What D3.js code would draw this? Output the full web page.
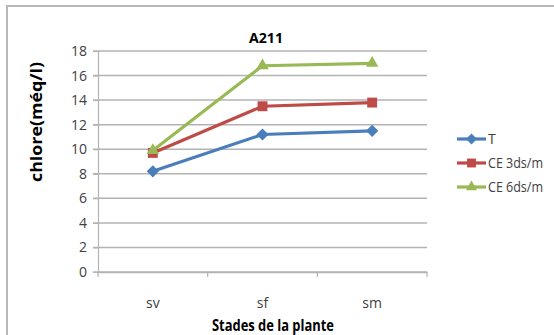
<!DOCTYPE html>
<html>
<head>
<meta charset="utf-8">
<script src="https://cdn.jsdelivr.net/npm/d3@7"></script>
<style>
    body { margin: 0; background: #fff; }
    text { font-family: "Open Sans", sans-serif; fill: #404040; }
</style>
</head>
<body>
<script>
const width = 554;
const height = 335;

// data
const stades = ["sv", "sf", "sm"];
const seriesNames = ["T", "CE 3ds/m", "CE 6ds/m"];
const valuesT = [8.2, 11.2, 11.5];
const valuesCE3 = [9.7, 13.5, 13.8];
const valuesCE6 = [9.9, 16.8, 17.0];
const yTicks = [0, 2, 4, 6, 8, 10, 12, 14, 16, 18];

const color = {
    T: "#4a7ebb",
    CE3: "#be4b48",
    CE6: "#98b954",
    grid: "#b3b3b3",
    text: "#404040"
};

const series = [
    {name: seriesNames[0], values: valuesT, color: color.T, symbol: d3.symbolDiamond2, size: 95},
    {name: seriesNames[1], values: valuesCE3, color: color.CE3, symbol: d3.symbolSquare2, size: 125},
    {name: seriesNames[2], values: valuesCE6, color: color.CE6, symbol: d3.symbolTriangle2, size: 110}
];

const plot = {left: 98, right: 427, top: 51, bottom: 272};

let svg = d3.select("body").append("svg")
    .attr("width", width)
    .attr("height", height)

// chart border
svg.append("rect")
    .attr("x", 7).attr("y", 6)
    .attr("width", 600).attr("height", 400)
    .attr("fill", "none")
    .attr("stroke", "#b8b8b8")
    .attr("stroke-width", 2)

let x = d3.scaleBand()
    .domain(stades)
    .range([plot.left, plot.right]);

let y = d3.scaleLinear()
    .domain([0, 18])
    .range([plot.bottom, plot.top]);

// gridlines
svg.append("g")
    .selectAll("line")
    .data(yTicks)
    .enter()
    .append("line")
    .attr("x1", plot.left - 5)
    .attr("x2", plot.right)
    .attr("y1", d => y(d))
    .attr("y2", d => y(d))
    .attr("stroke", color.grid)
    .attr("stroke-width", 1.5)

// y axis
let yAxis = svg.append("g")
    .attr("transform", "translate(" + plot.left + ",0)")
    .call(d3.axisLeft(y).tickValues(yTicks).tickSize(5).tickPadding(6))
yAxis.select(".domain").attr("stroke", color.grid).attr("stroke-width", 1.2)
yAxis.selectAll(".tick line").attr("stroke", color.grid)
yAxis.selectAll("text").attr("font-size", 14).attr("fill", color.text)
    .style("font-family", "'Open Sans', sans-serif")

// x axis
let xAxis = svg.append("g")
    .attr("transform", "translate(0," + plot.bottom + ")")
    .call(d3.axisBottom(x).tickSize(0).tickPadding(26))
xAxis.select(".domain").attr("stroke", color.grid).attr("stroke-width", 1.5)
xAxis.selectAll("text").attr("font-size", 14).attr("fill", color.text)
    .style("font-family", "'Open Sans', sans-serif")

// tick marks between categories
let bounds = stades.map(d => x(d)).concat([x(stades[stades.length - 1]) + x.bandwidth()])
svg.append("g")
    .selectAll("line")
    .data(bounds)
    .enter()
    .append("line")
    .attr("x1", d => d).attr("x2", d => d)
    .attr("y1", plot.bottom).attr("y2", plot.bottom + 5)
    .attr("stroke", color.grid)
    .attr("stroke-width", 1.2)

// lines
let line = d3.line()
    .x((d, i) => x(stades[i]) + x.bandwidth() / 2)
    .y(d => y(d));

series.forEach(function (s) {
    let g = svg.append("g")
    g.append("path")
        .attr("d", line(s.values))
        .attr("fill", "none")
        .attr("stroke", s.color)
        .attr("stroke-width", 3.2)
    g.selectAll("path.pt")
        .data(s.values)
        .enter()
        .append("path")
        .attr("class", "pt")
        .attr("d", d3.symbol().type(s.symbol).size(s.size))
        .attr("transform", (d, i) => "translate(" + (x(stades[i]) + x.bandwidth() / 2) + "," + y(d) + ")")
        .attr("fill", s.color)
})

// title
svg.append("text")
    .attr("x", 266).attr("y", 43)
    .attr("text-anchor", "middle")
    .attr("font-size", 15)
    .attr("font-weight", "bold")
    .style("fill", "#000")
    .attr("textLength", 34)
    .attr("lengthAdjust", "spacingAndGlyphs")
    .text("A211")

// y title
svg.append("text")
    .attr("transform", "translate(42,122)rotate(-90)")
    .attr("text-anchor", "middle")
    .attr("font-size", 16)
    .attr("font-weight", "bold")
    .style("fill", "#000")
    .attr("textLength", 120)
    .attr("lengthAdjust", "spacingAndGlyphs")
    .text("chlore(méq/l)")

// x title
svg.append("text")
    .attr("x", 273).attr("y", 331)
    .attr("text-anchor", "middle")
    .attr("font-size", 16)
    .attr("font-weight", "bold")
    .style("fill", "#000")
    .attr("textLength", 122)
    .attr("lengthAdjust", "spacingAndGlyphs")
    .text("Stades de la plante")

// legend
let legend = svg.append("g")
    .selectAll("g")
    .data(series)
    .enter()
    .append("g")
    .attr("transform", (d, i) => "translate(457," + (139 + i * 24) + ")")
legend.append("line")
    .attr("x1", 0).attr("x2", 29)
    .attr("stroke", d => d.color)
    .attr("stroke-width", 3.2)
legend.append("path")
    .attr("d", d => d3.symbol().type(d.symbol).size(d.size * 0.8)())
    .attr("transform", "translate(14.5,0)")
    .attr("fill", d => d.color)
legend.append("text")
    .attr("x", 31).attr("y", 5)
    .attr("font-size", 14)
    .style("fill", color.text)
    .attr("textLength", d => d.name.length > 1 ? 55 : null)
    .attr("lengthAdjust", "spacingAndGlyphs")
    .text(d => d.name)
</script>
</body>
</html>
